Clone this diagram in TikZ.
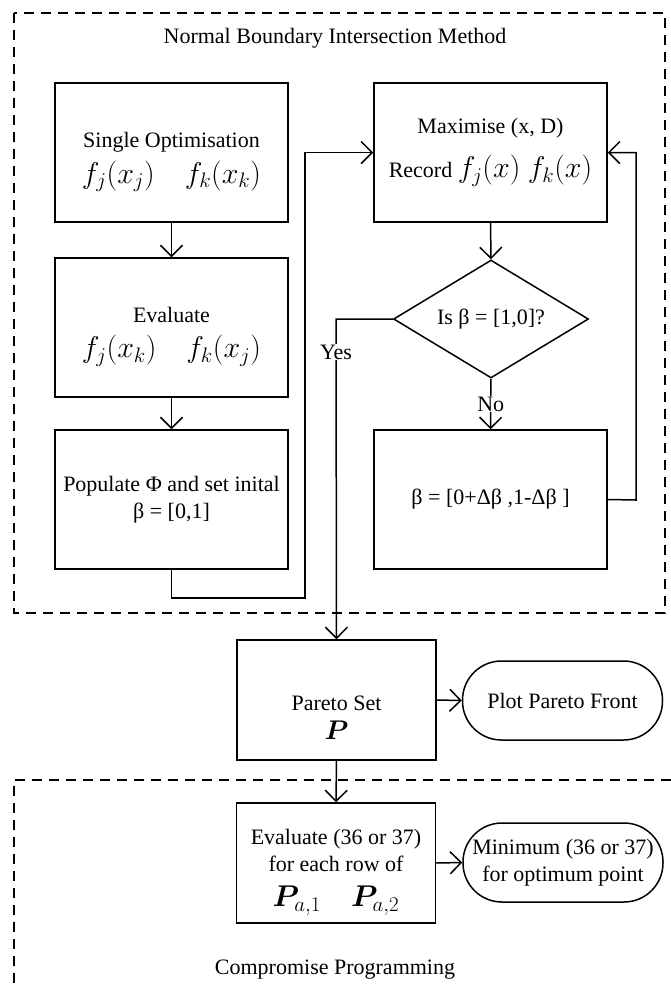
\RequirePackage{fix-cm}
\documentclass[tikz,border=0pt]{standalone}
\usepackage{amsmath,bm}
\usepackage{fontspec}
\setmainfont{Liberation Serif}
\usetikzlibrary{arrows.meta,shapes.geometric}

% larger maths for the formula rows inside the boxes
\newcommand{\fmrow}[1]{{\fontsize{30}{34}\selectfont$#1$}}

\begin{document}
\begin{tikzpicture}[x=1pt,y=-1pt,
  every node/.style={font=\fontsize{22}{27}\selectfont},
  box/.style={draw, line width=1.5pt, rectangle, inner sep=0pt, align=center,
    minimum width=233pt, minimum height=139pt},
  smallbox/.style={box, minimum width=199pt, minimum height=120pt},
  term/.style={draw, line width=1.5pt, rectangle, rounded corners=39pt,
    inner sep=0pt, align=center, minimum width=200pt, minimum height=79pt},
  decision/.style={draw, line width=1.5pt, diamond, shape aspect=1.65,
    inner sep=0pt, minimum width=195pt, minimum height=118pt},
  arr/.style={line width=1.5pt, -{Straight Barb[length=11pt,width=22pt,line width=1.5pt]}},
  region/.style={line width=1.5pt, dash pattern=on 10pt off 7pt},
  lbl/.style={fill=white, inner sep=1pt}
]
\useasboundingbox (0,0) rectangle (671,989);

% method regions
\draw[region] (14,13) rectangle (665,613);
\draw[region] (671,780) -- (14,780) -- (14,989);
\node (nbi) at (335,38) {Normal Boundary Intersection Method};
\node (cp) at (335,970) {Compromise Programming};

% left column
\node[box] (single) at (171.5,152.5)
  {\rule{0pt}{34pt}Single Optimisation\\[8pt] \fmrow{f_j(x_j)\quad f_k(x_k)}};
\node[box] (eval) at (171.5,327.5)
  {\rule{0pt}{34pt}Evaluate\\[8pt] \fmrow{f_j(x_k)\quad f_k(x_j)}};
\node[box] (pop) at (171.5,499.5)
  {Populate Φ and set inital\\ β = [0,1]};

% right column
\node[box] (maxi) at (490.5,152.5)
  {Maximise (x, D)\\[16pt] Record \fmrow{f_j(x)\ f_k(x)}};
\node[decision] (test) at (491,319) {Is β = [1,0]?};
\node[box] (step) at (490.5,499.5) {β = [0+Δβ ,1-Δβ ]};

% Pareto set and compromise programming
\node[smallbox] (pareto) at (336.5,700)
  {\rule{0pt}{50pt}Pareto Set\\[2pt] {\fontsize{27}{30}\selectfont$\bm{P}$}};
\node[term] (plot) at (562.5,700.5) {Plot Pareto Front};
\node[smallbox] (cpeval) at (336,863)
  {\rule{0pt}{34pt}Evaluate (36 or 37)\\ for each row of\\[8pt]
   \fmrow{\bm{P}_{a,1}\quad \bm{P}_{a,2}}};
\node[term] (mini) at (563,862.5) {Minimum (36 or 37)\\ for optimum point};

% connectors
\coordinate (popturn) at (305,598);
\coordinate (loopturn) at (636,500);
\coordinate (yesturn) at (336,319);

\draw[arr] (single.south) -- (eval.north);
\draw[arr] (eval.south) -- (pop.north);
\draw[arr] (pop.south) |- (popturn) |- (maxi.west);
\draw[arr] (maxi.south) -- (test.north);
\draw[arr] (test.south) -- node[lbl] (no) {No} (step.north);
\draw[arr] (step.east) -- (loopturn) |- (maxi.east);
\draw[arr] (test.west) -- (yesturn) -- node[lbl, pos=0.103] (yes) {Yes} (pareto.north);
\draw[arr] (pareto.east) -- (plot.west);
\draw[arr] (pareto.south) -- (cpeval.north);
\draw[arr] (cpeval.east) -- (mini.west);
\end{tikzpicture}
\end{document}
